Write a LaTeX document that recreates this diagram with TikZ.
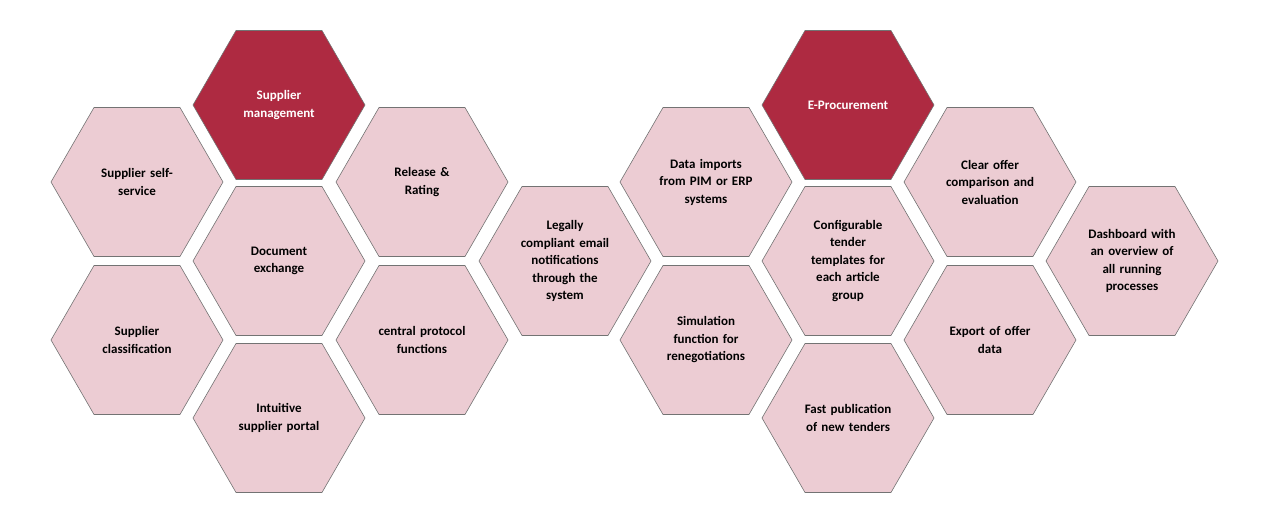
\documentclass[tikz,border=0pt]{standalone}
\usepackage{fontspec}
\setmainfont{Carlito}
\usetikzlibrary{shapes.geometric}
\definecolor{hexdark}{HTML}{AE2A41}
\definecolor{hexlight}{HTML}{ECCCD3}

\begin{document}
\begin{tikzpicture}[
				x=1pt, y=-1pt,
				hexa/.style = {regular polygon, regular polygon sides=6, minimum size=172pt, inner sep=0pt,
					draw=black!55, line width=0.6pt, align=center, text width=105pt,
					font=\fontsize{13}{17.5}\selectfont\bfseries},
				light/.style = {hexa, fill=hexlight, text=black},
				dark/.style = {hexa, fill=hexdark, text=white}
			]
			\useasboundingbox (0,0) rectangle (1280,511);
			\node[dark] (sm) at (279,105) {Supplier\\management};
			\node[light] (self) at (137,182) {Supplier self-\\service};
			\node[light] (rel) at (422,182) {Release \&\\Rating};
			\node[light] (doc) at (279,261) {Document\\exchange};
			\node[light] (cls) at (137,340) {Supplier\\classification};
			\node[light] (prot) at (422,340) {central protocol\\functions};
			\node[light] (port) at (279,418) {Intuitive\\supplier portal};
			\node[light] (mail) at (565,261) {Legally\\compliant email\\notifications\\through the\\system};
			\node[light] (imp) at (706,182) {Data imports\\from PIM or ERP\\systems};
			\node[dark] (ep) at (848,105) {E-Procurement};
			\node[light] (offer) at (990,182) {Clear offer\\comparison and\\evaluation};
			\node[light] (tmpl) at (848,261) {Configurable\\tender\\templates for\\each article\\group};
			\node[light] (sim) at (706,340) {Simulation\\function for\\renegotiations};
			\node[light] (exp) at (990,340) {Export of offer\\data};
			\node[light] (pub) at (848,418) {Fast publication\\of new tenders};
			\node[light] (dash) at (1132,261) {Dashboard with\\an overview of\\all running\\processes};
		\end{tikzpicture}
\end{document}
